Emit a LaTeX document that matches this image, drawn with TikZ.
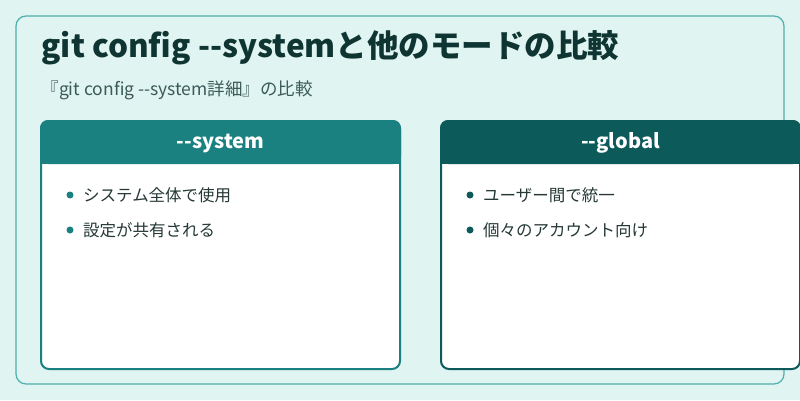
\documentclass[tikz,border=0pt]{standalone}
\usepackage{fontspec}
\setmainfont{Noto Sans CJK JP}
\usetikzlibrary{positioning}
\definecolor{bgteal}{HTML}{E0F4F2}
\definecolor{frameteal}{HTML}{4DB0AC}
\definecolor{systeal}{HTML}{1A8080}
\definecolor{globteal}{HTML}{0D5A5A}
\definecolor{titleink}{HTML}{0F3533}
\definecolor{subink}{HTML}{3A5A58}
\definecolor{itemink}{HTML}{253836}
\tikzset{
  card/.style = {draw=#1, line width=2pt, fill=white, rounded corners=8pt},
  head/.style = {text=white, font=\bfseries\fontsize{20pt}{24pt}\selectfont},
  item/.style = {text=itemink, anchor=west, font=\fontsize{16.5pt}{19pt}\selectfont},
  dot/.style = {circle, fill=#1, inner sep=0pt, minimum size=7pt}
}
\begin{document}
\begin{tikzpicture}[x=1pt, y=-1pt]
\useasboundingbox (0,0) rectangle (800,400);
\fill[bgteal] (0,0) rectangle (800,400);
\draw[frameteal, line width=1.2pt, rounded corners=10pt] (16,16) rectangle (784,384);

\node[anchor=west, text=titleink, font=\bfseries\fontsize{31.5pt}{36pt}\selectfont] (title) at (38,48) {git config -{}-systemと他のモードの比較};
\node[anchor=west, text=subink, font=\fontsize{17.5pt}{21pt}\selectfont] (sub) at (38,90) {『git config -{}-system詳細』の比較};

% left card
\draw[card=systeal] (41,121) rectangle (400,369);
\fill[systeal, rounded corners=8pt] (40,120) -- (40,164) -- (401,164) -- (401,120) -- cycle;
\fill[systeal] (40,150) rectangle (401,164);
\node[head] (syshead) at (220.5,143) {-{}-system};
\node[dot=systeal] (sd1) at (70,195) {};
\node[item, right=6pt of sd1] (si1) {システム全体で使用};
\node[dot=systeal] (sd2) at (70,230) {};
\node[item, right=6pt of sd2] (si2) {設定が共有される};

% right card
\draw[card=globteal] (441,121) rectangle (800,369);
\fill[globteal, rounded corners=8pt] (440,120) -- (440,164) -- (801,164) -- (801,120) -- cycle;
\fill[globteal] (440,150) rectangle (801,164);
\node[head] (globhead) at (620.5,143) {-{}-global};
\node[dot=globteal] (gd1) at (470,195) {};
\node[item, right=6pt of gd1] (gi1) {ユーザー間で統一};
\node[dot=globteal] (gd2) at (470,230) {};
\node[item, right=6pt of gd2] (gi2) {個々のアカウント向け};
\end{tikzpicture}
\end{document}
